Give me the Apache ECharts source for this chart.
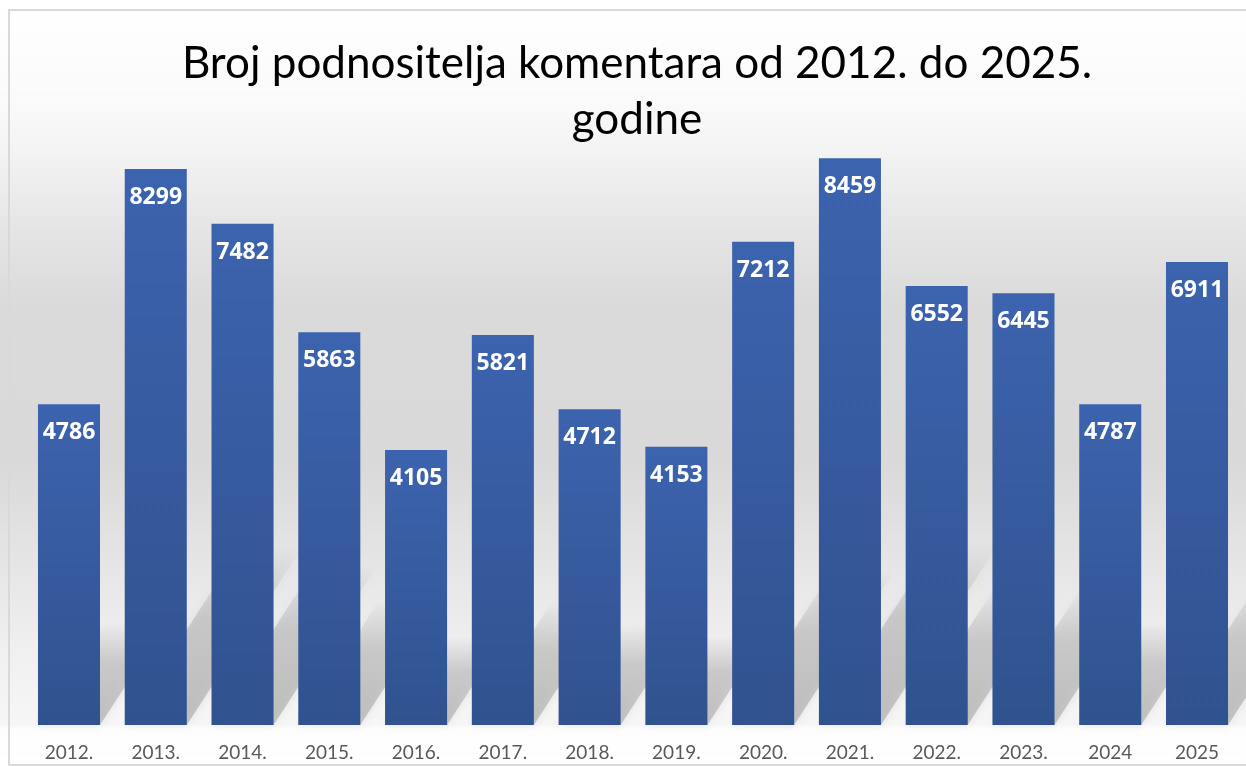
<!DOCTYPE html>
<html>
<head>
<meta charset="utf-8">
<script src="https://cdn.jsdelivr.net/npm/echarts@6/dist/echarts.min.js"></script>
<style>
  html, body { margin: 0; padding: 0; background: #fff; }
  #container { width: 1246px; height: 766px; }
</style>
</head>
<body>
<div id="container"></div>
<script>
var titleText = 'Broj podnositelja komentara od 2012. do 2025.\ngodine';
var years = ['2012.', '2013.', '2014.', '2015.', '2016.', '2017.', '2018.',
  '2019.', '2020.', '2021.', '2022.', '2023.', '2024', '2025'];
var submitters = [4786, 8299, 7482, 5863, 4105, 5821, 4712,
  4153, 7212, 8459, 6552, 6445, 4787, 6911];

var dom = document.getElementById('container');
var myChart = echarts.init(dom);

var shadowData = years.map(function (y, i) {
  return [i, submitters[i]];
});

var option = {
  backgroundColor: {
    type: 'linear', x: 0, y: 0, x2: 0, y2: 1,
    colorStops: [
      { offset: 0, color: '#ffffff' },
      { offset: 0.13, color: '#fafafa' },
      { offset: 0.2, color: '#f3f3f3' },
      { offset: 0.3, color: '#e5e5e5' },
      { offset: 0.4, color: '#dadada' },
      { offset: 0.6, color: '#d9d9d9' },
      { offset: 0.7, color: '#e2e2e2' },
      { offset: 0.84, color: '#efefef' },
      { offset: 0.945, color: '#f6f6f6' },
      { offset: 0.952, color: '#fdfdfd' },
      { offset: 1, color: '#ffffff' }
    ]
  },
  title: {
    text: titleText,
    left: 632,
    top: 31,
    textAlign: 'center',
    textStyle: {
      fontFamily: 'Lato',
      fontSize: 44,
      fontWeight: 'normal',
      color: '#000',
      lineHeight: 56
    }
  },
  graphic: [{
    type: 'rect',
    shape: { x: 9, y: 10, width: 1260, height: 755 },
    style: { fill: 'none', stroke: '#d9d9d9', lineWidth: 2 },
    silent: true
  }],
  grid: {
    left: 25.6,
    right: 5.6,
    top: 55,
    bottom: 41
  },
  xAxis: {
    type: 'category',
    data: years,
    axisLine: { show: false },
    axisTick: { show: false },
    axisLabel: {
      color: '#595959',
      fontFamily: 'Lato',
      fontSize: 19,
      margin: 18
    }
  },
  yAxis: {
    type: 'value',
    min: 0,
    max: 10000,
    show: false,
    splitLine: { show: false }
  },
  series: [
    {
      // soft reflection-like shadows behind the bars
      type: 'custom',
      z: 1,
      silent: true,
      data: shadowData,
      renderItem: function (params, api) {
        var base = api.coord([api.value(0), 0]);
        var top = api.coord([api.value(0), api.value(1)]);
        var band = api.size([1, 0])[0];
        var w = band * 0.715;
        var x0 = base[0] - w / 2;
        var x1 = base[0] + w / 2;
        var yb = base[1];
        var h = (yb - top[1]) * 0.32;
        var dx = h * 0.65;
        return {
          type: 'polygon',
          shape: {
            points: [[x0, yb], [x1, yb], [x1 + dx, yb - h], [x0 + dx, yb - h]]
          },
          style: {
            fill: {
              type: 'linear', x: 0, y: 1, x2: 0, y2: 0,
              colorStops: [
                { offset: 0, color: 'rgba(150,150,150,0.5)' },
                { offset: 0.6, color: 'rgba(150,150,150,0.35)' },
                { offset: 1, color: 'rgba(150,150,150,0)' }
              ]
            },
            shadowBlur: 8,
            shadowColor: 'rgba(150,150,150,0.4)'
          }
        };
      }
    },
    {
      name: 'Broj podnositelja',
      type: 'bar',
      z: 2,
      data: submitters,
      barCategoryGap: '28.5%',
      itemStyle: {
        color: {
          type: 'linear', x: 0, y: 0, x2: 0, y2: 1,
          colorStops: [
            { offset: 0, color: '#3c63ae' },
            { offset: 1, color: '#30528e' }
          ]
        }
      },
      label: {
        show: true,
        position: 'insideTop',
        distance: 17,
        color: '#ffffff',
        fontFamily: 'Open Sans',
        fontWeight: 'bold',
        fontSize: 23
      }
    }
  ]
};

if (option && typeof option === 'object') {
  myChart.setOption(option);
}
</script>
</body>
</html>
